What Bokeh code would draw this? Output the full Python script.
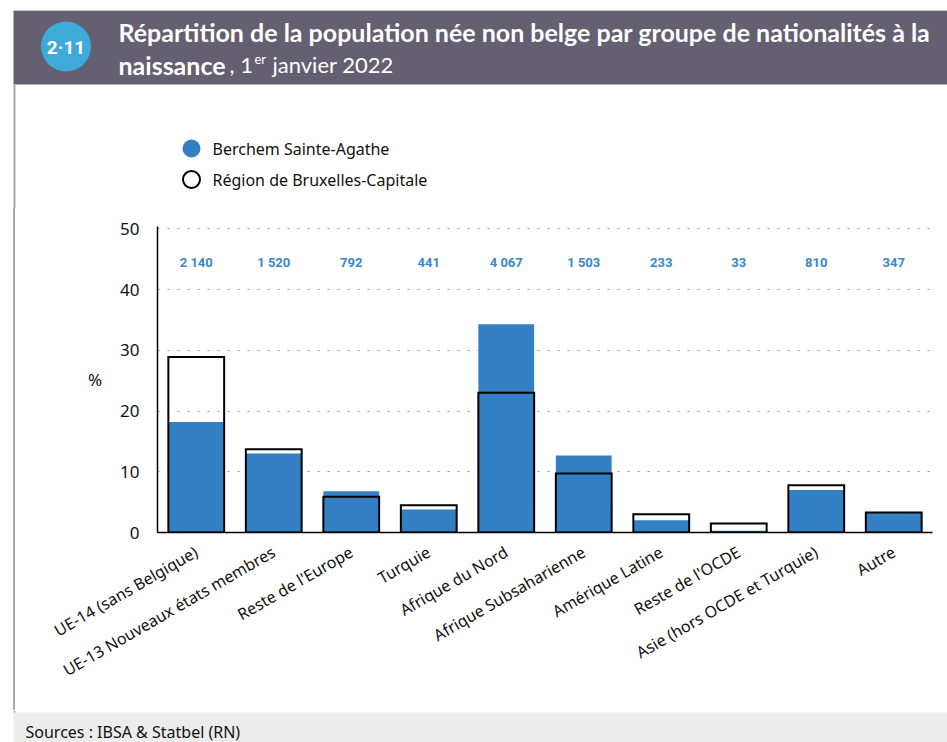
import math
from bokeh.plotting import figure
from bokeh.models import ColumnDataSource, FactorRange, FixedTicker, Range1d, Div
from bokeh.layouts import column, row
from bokeh.core.properties import value
from bokeh.embed import file_html
from bokeh.resources import INLINE

# ---------------- data ----------------
categories = ["UE-14 (sans Belgique)", "UE-13 Nouveaux états membres", "Reste de l'Europe",
              "Turquie", "Afrique du Nord", "Afrique Subsaharienne", "Amérique Latine",
              "Reste de l'OCDE", "Asie (hors OCDE et Turquie)", "Autre"]
berchem = [18.2, 13.0, 6.8, 3.8, 34.3, 12.7, 2.0, 0.3, 7.0, 3.2]
region = [28.9, 13.7, 5.9, 4.5, 23.0, 9.7, 3.0, 1.5, 7.8, 3.3]
counts = ["2 140", "1 520", "792", "441", "4 067", "1 503", "233", "33", "810", "347"]
y_ticks = [0, 10, 20, 30, 40, 50]
series_names = ["Berchem Sainte-Agathe", "Région de Bruxelles-Capitale"]

# ---------------- styles ----------------
BLUE = "#3380c4"
LABEL_BLUE = "#3a87c9"
HEADER = "#646071"
BADGE = "#3eaad9"
BORDER = "#a9a7b5"
FOOTER = "#ececec"
FONT = "Noto Sans"
TFONT = "Lato"
TXT = "#111111"
W = 947


def blank(width, height, xr, yr, **kw):
    f = figure(width=width, height=height, x_range=xr, y_range=yr, output_backend="svg",
               toolbar_location=None, title=None, x_axis_type=None, y_axis_type=None,
               min_border=0, min_border_left=0, min_border_right=0, min_border_top=0,
               min_border_bottom=0, **kw)
    f.outline_line_color = None
    f.background_fill_color = "white"
    f.border_fill_color = "white"
    f.grid.visible = False
    return f


# ---------------- header (page y 0..208) ----------------
TOP_H = 208
top = blank(W, TOP_H, Range1d(0, W), Range1d(TOP_H, 0))
top.quad(left=13, right=W, top=10, bottom=84, fill_color=HEADER, line_color=None)
top.segment(x0=13, y0=10, x1=W, y1=10, line_color="#c4c2cc", line_width=1)
top.segment(x0=14, y0=84, x1=14, y1=TOP_H, line_color=BORDER, line_width=2)
top.scatter(x=65.5, y=46, size=50, marker="circle", fill_color=BADGE, line_color=None)
top.text(x=65.5, y=47, text=["2·11"], text_align="center", text_baseline="middle",
         text_font=value("Roboto"), text_font_style="bold", text_font_size="19px",
         text_color="white")
top.text(x=118, y=31, text=["Répartition de la population née non belge par groupe de nationalités à la"],
         text_align="left", text_baseline="middle", text_font=value(TFONT),
         text_font_style="bold", text_font_size="25px", text_color="white")
top.text(x=118, y=64, text=["naissance"], text_align="left", text_baseline="middle",
         text_font=value(TFONT), text_font_style="bold", text_font_size="25px",
         text_color="white")
top.text(x=229, y=64, text=[", 1"], text_align="left", text_baseline="middle",
         text_font=value(TFONT), text_font_size="22px", text_color="white")
top.text(x=254, y=58, text=["er"], text_align="left", text_baseline="middle",
         text_font=value(TFONT), text_font_size="13px", text_color="white")
top.text(x=272, y=64, text=["janvier 2022"], text_align="left", text_baseline="middle",
         text_font=value(TFONT), text_font_size="22px", text_color="white")
# legend
top.scatter(x=191, y=148, size=18, marker="circle", fill_color=BLUE, line_color=None)
top.scatter(x=191, y=179, size=17, marker="circle", fill_color="white", line_color="black",
            line_width=2)
top.text(x=[212, 212], y=[148, 179], text=series_names, text_align="left",
         text_baseline="middle", text_font=value(FONT), text_font_size="16px", text_color=TXT)

# ---------------- main chart (page y 208..710) ----------------
MAIN_H = 502
STRIP_W = 15
strip = Div(text="", width=10, height=MAIN_H, margin=(0, 0, 0, 5),
            styles={"border-right": f"2px solid {BORDER}", "box-sizing": "border-box"})

src = ColumnDataSource(dict(cat=categories, berchem=berchem, region=region,
                            count=counts, ly=[44.4] * len(categories)))

p = figure(width=W - STRIP_W, height=MAIN_H, x_range=FactorRange(*categories),
           y_range=Range1d(0, 50.4), output_backend="svg", toolbar_location=None, title=None,
           min_border_left=157 - STRIP_W, min_border_right=W - STRIP_W - (157 - STRIP_W) - 775,
           min_border_top=226 - TOP_H, min_border_bottom=710 - 532)
p.outline_line_color = None
p.background_fill_color = "white"
p.border_fill_color = "white"

p.vbar(x="cat", top="berchem", width=0.72, source=src, fill_color=BLUE, line_color=None)
p.vbar(x="cat", top="region", width=0.72, source=src, fill_color=None,
       line_color="black", line_width=2, line_join="miter")
p.text(x="cat", y="ly", text="count", source=src, text_align="center", text_baseline="middle",
       text_font=value("Roboto"), text_font_style="bold", text_font_size="13px",
       text_color=LABEL_BLUE)

p.yaxis.ticker = FixedTicker(ticks=y_ticks)
for ax in (p.xaxis, p.yaxis):
    ax.axis_line_color = "black"
    ax.axis_line_width = 1.5
    ax.major_tick_line_color = None
    ax.minor_tick_line_color = None
    ax.major_label_text_font = FONT
    ax.major_label_text_color = TXT
p.yaxis.major_label_text_font_size = "17px"
p.yaxis.major_label_standoff = 12
p.yaxis.axis_label = "%"
p.yaxis.axis_label_text_font = FONT
p.yaxis.axis_label_text_font_size = "17px"
p.yaxis.axis_label_text_font_style = "normal"
p.yaxis.axis_label_text_color = TXT
p.yaxis.axis_label_standoff = 15
try:
    p.yaxis.axis_label_orientation = "horizontal"
except Exception:
    pass
p.xaxis.major_label_text_font_size = "16px"
p.xaxis.major_label_orientation = math.pi / 6
p.xaxis.major_label_standoff = 12
p.xgrid.grid_line_color = None
p.ygrid.grid_line_color = "#9a9a9a"
p.ygrid.grid_line_dash = "2 8"
p.ygrid.grid_line_width = 1.2

# ---------------- footer (page y 710..742) ----------------
FOOT_H = 32
foot = blank(W, FOOT_H, Range1d(0, W), Range1d(FOOT_H, 0))
foot.quad(left=13, right=W, top=2, bottom=FOOT_H, fill_color=FOOTER, line_color=None)
foot.segment(x0=14, y0=0, x1=14, y1=2, line_color=BORDER, line_width=2)
foot.text(x=25, y=21, text=["Sources : IBSA & Statbel (RN)"], text_align="left",
          text_baseline="alphabetic", text_font=value(FONT), text_font_size="16px",
          text_color=TXT)

layout = column(top, row(strip, p, spacing=0), foot, spacing=0)
open("out.html", "w").write(file_html(layout, INLINE))
